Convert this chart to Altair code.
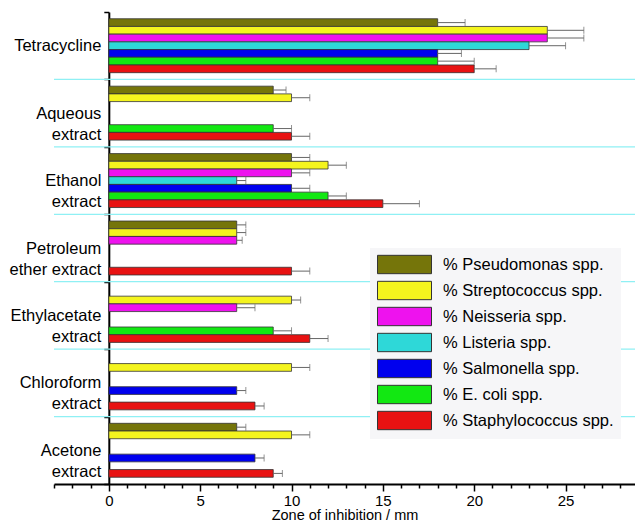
import altair as alt
import pandas as pd

categories = ["Tetracycline", "Aqueous|extract", "Ethanol|extract", "Petroleum|ether extract",
              "Ethylacetate|extract", "Chloroform|extract", "Acetone|extract"]
series = ["Pseudomonas", "Streptococcus", "Neisseria", "Listeria", "Salmonella", "E. coli", "Staphylococcus"]
colors = ["#75750a", "#f4f41e", "#ee12ee", "#2ed8d8", "#0000ee", "#12e812", "#e81212"]

pseudomonas = [18, 9, 10, 7, None, None, 7]
pseudomonas_err = [1.5, 0.7, 1, 0.5, None, None, 0.5]
streptococcus = [24, 10, 12, 7, 10, 10, 10]
streptococcus_err = [2, 1, 1, 0.5, 0.5, 1, 1]
neisseria = [24, None, 10, 7, 7, None, None]
neisseria_err = [2, None, 1, 0.3, 1, None, None]
listeria = [23, None, 7, None, None, None, None]
listeria_err = [2, None, 0.5, None, None, None, None]
salmonella = [18, None, 10, None, None, 7, 8]
salmonella_err = [1.3, None, 1, None, None, 0.5, 0.5]
ecoli = [18, 9, 12, None, 9, None, None]
ecoli_err = [2, 1, 1, None, 1, None, None]
staphylococcus = [20, 10, 15, 10, 11, 8, 9]
staphylococcus_err = [1.2, 1, 2, 1, 1, 0.5, 0.5]

values = [pseudomonas, streptococcus, neisseria, listeria, salmonella, ecoli, staphylococcus]
errors = [pseudomonas_err, streptococcus_err, neisseria_err, listeria_err, salmonella_err, ecoli_err, staphylococcus_err]

rows = []
for s, vals, errs in zip(series, values, errors):
    for c, v, e in zip(categories, vals, errs):
        if v is None:
            continue
        rows.append({"cat": c, "series": s, "value": v, "hi": v + e})
df = pd.DataFrame(rows)
sep = pd.DataFrame({"cat": categories[1:]})

XMIN, XMAX = -3, 28.8
W, H = 581, 472
x0 = W * (0 - XMIN) / (XMAX - XMIN)
FONT = "Liberation Sans"

xscale = alt.Scale(domain=[XMIN, XMAX], nice=False, zero=False)
xaxis = alt.Axis(
    values=list(range(-3, 29)),
    labelExpr="datum.value % 5 === 0 ? datum.label : ''",
    tickSize={"condition": {"test": "datum.value % 5 === 0", "value": 7}, "value": 4},
    tickColor="black", tickWidth=1.5, domainColor="black", domainWidth=2,
    labelFont=FONT, labelFontSize=15, labelColor="black", labelPadding=2, labelFlush=False,
    grid=False, title="Zone of inhibition / mm", titleFont=FONT, titleFontSize=14.5,
    titleFontWeight="normal", titleColor="black", titlePadding=0.5,
)
yscale = alt.Scale(domain=categories, paddingInner=0, paddingOuter=0)
yaxis = alt.Axis(
    title=None, offset=-x0, tickBand="extent", tickSize=5, tickColor="black", tickWidth=1.5,
    domainColor="black", domainWidth=2, labelFont=FONT, labelFontSize=16.5, labelColor="black",
    labelPadding=3, labelExpr="split(datum.label, '|')", labelLineHeight=21, labelLimit=200,
    grid=False,
)
yoff = alt.YOffset("series:N", scale=alt.Scale(domain=series, paddingInner=0, paddingOuter=0.875))

base = alt.Chart(df)

separators = alt.Chart(sep).mark_rule(color="#8ff0f4", strokeWidth=1.2).encode(
    y=alt.Y("cat:N", scale=yscale, axis=yaxis, bandPosition=0),
)

bars = base.mark_bar(stroke="#333333", strokeWidth=0.8).encode(
    x=alt.X("value:Q", scale=xscale, axis=xaxis),
    y=alt.Y("cat:N", scale=yscale, axis=yaxis),
    yOffset=yoff,
    color=alt.Color("series:N", scale=alt.Scale(domain=series, range=colors),
                    legend=alt.Legend(
                        orient="none", legendX=316, legendY=236, title=None,
                        symbolType="M-1,-1.02H5V1.02H-1Z", symbolSize=324,
                        symbolStrokeColor="#333333", symbolStrokeWidth=1, symbolOpacity=1,
                        labelOffset=47, labelFont=FONT, labelFontSize=16.5, labelColor="black",
                        labelExpr="'% ' + datum.label + ' spp.'", labelLimit=300,
                        rowPadding=3, padding=7, fillColor="#f6f6f8",
                    )),
)

err_lines = base.mark_rule(color="#666666", strokeWidth=1).encode(
    x=alt.X("value:Q", scale=xscale, axis=xaxis),
    x2="hi:Q",
    y=alt.Y("cat:N", scale=yscale, axis=yaxis),
    yOffset=yoff,
)

caps = base.mark_tick(color="#666666", thickness=1, size=7).encode(
    x=alt.X("hi:Q", scale=xscale, axis=xaxis),
    y=alt.Y("cat:N", scale=yscale, axis=yaxis),
    yOffset=yoff,
)

chart = alt.layer(separators, bars, err_lines, caps).properties(
    width=W, height=H,
    autosize=alt.AutoSizeParams(type="none"),
    padding={"left": 46, "top": 4, "right": 0, "bottom": 40},
    background="white",
).configure_view(stroke=None)

chart.save("out.html", embed_options={"renderer": "svg", "actions": False})
